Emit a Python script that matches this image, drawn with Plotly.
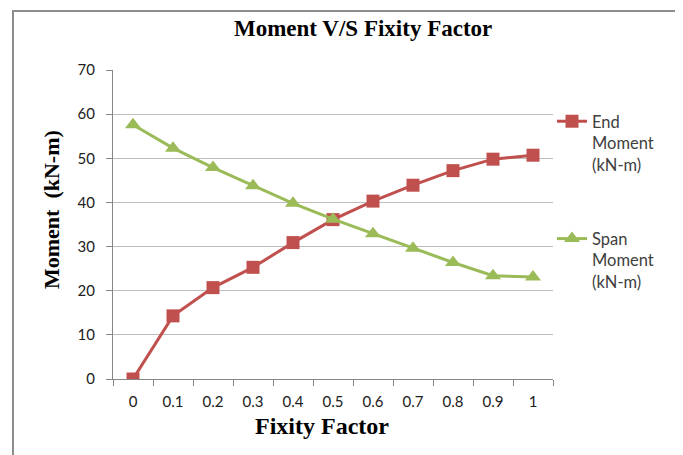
import plotly.graph_objects as go

fixity = ["0", "0.1", "0.2", "0.3", "0.4", "0.5", "0.6", "0.7", "0.8", "0.9", "1"]
end_moment = [0.0, 14.3, 20.7, 25.3, 30.9, 36.1, 40.3, 43.9, 47.2, 49.8, 50.7]
span_moment = [57.6, 52.3, 47.9, 43.8, 39.8, 36.2, 32.9, 29.6, 26.4, 23.4, 23.1]

RED = "#C0504D"
GREEN = "#9BBB59"

fig = go.Figure()
fig.add_trace(go.Scatter(
    x=fixity, y=end_moment, mode="lines+markers",
    name="End<br>Moment<br>(kN-m)", legendgroup="a",
    line=dict(color=RED, width=3),
    marker=dict(symbol="square", size=13, color=RED),
))
fig.add_trace(go.Scatter(
    x=fixity, y=span_moment, mode="lines+markers",
    name="Span<br>Moment<br>(kN-m)", legendgroup="b",
    line=dict(color=GREEN, width=3),
    marker=dict(symbol="triangle-up", size=14, color=GREEN),
))

OFF = 8  # page body margin
W, H = 683 - OFF, 455 - OFF
# plot area in screen pixels: x 113..553, y 70..379
L, T = 113 - OFF, 70 - OFF
pw, ph = 440, 309
R = W - L - pw
B = H - T - ph

def px(x):
    return (x - OFF - L) / pw

def py(y):
    return (T + ph - (y - OFF)) / ph

serif = "Liberation Serif"
sans = "Lato"

fig.update_layout(
    width=W, height=H,
    margin=dict(l=L, r=R, t=T, b=B),
    paper_bgcolor="white", plot_bgcolor="white",
    showlegend=True,
    legend=dict(
        x=px(552), y=py(104), xanchor="left", yanchor="top",
        font=dict(family=sans, size=16.5, color="#404040"),
        valign="top", tracegroupgap=50, bgcolor="rgba(0,0,0,0)",
    ),
    xaxis=dict(
        type="category", range=[-0.5, 10.5],
        showline=True, linecolor="#868686", linewidth=1,
        ticks="outside", tickson="boundaries", ticklen=6, tickcolor="#868686",
        ticklabelstandoff=9,
        showgrid=False, zeroline=False,
        tickfont=dict(family=sans, size=15, color="#202020"),
        fixedrange=True,
    ),
    yaxis=dict(
        range=[0, 70], dtick=10,
        showline=True, linecolor="#868686", linewidth=1,
        ticks="outside", ticklen=6, tickcolor="#868686",
        ticklabelstandoff=8,
        showgrid=True, gridcolor="#BDBDBD", gridwidth=1,
        zeroline=False,
        tickfont=dict(family=sans, size=15, color="#202020"),
        fixedrange=True,
    ),
    annotations=[
        dict(text="<b>Moment V/S Fixity Factor</b>", x=px(363), y=py(29),
             xref="paper", yref="paper", showarrow=False,
             font=dict(family=serif, size=23, color="black"),
             xanchor="center", yanchor="middle"),
        dict(text="<b>Fixity Factor</b>", x=px(322), y=py(426),
             xref="paper", yref="paper", showarrow=False,
             font=dict(family=serif, size=24, color="black"),
             xanchor="center", yanchor="middle"),
        dict(text="<b>Moment\u00a0\u00a0(kN-m)</b>", x=px(52), y=py(210),
             xref="paper", yref="paper", showarrow=False, textangle=-90,
             font=dict(family=serif, size=22, color="black"),
             xanchor="center", yanchor="middle"),
    ],
    shapes=[
        dict(type="rect", xref="paper", yref="paper",
             x0=px(13), x1=px(680), y0=py(470), y1=py(11),
             line=dict(color="#8C8C8C", width=2), fillcolor="rgba(0,0,0,0)",
             layer="below"),
    ],
)

fig.write_html("out.html")
